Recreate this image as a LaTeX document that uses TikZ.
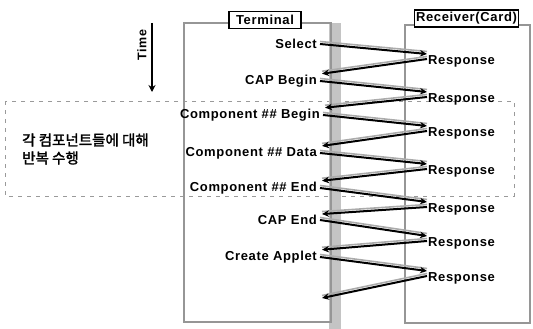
\documentclass[tikz,border=0pt]{standalone}
\usepackage{fontspec}
\setmainfont{Liberation Sans}[LetterSpace=5]
\newfontfamily\krfont{Noto Sans CJK KR}[FakeBold=2]
\usetikzlibrary{arrows.meta,positioning}
\definecolor{FrameGray}{HTML}{969696}
\definecolor{BandGray}{HTML}{C4C4C4}
\definecolor{ShadowGray}{HTML}{ABABAB}
\definecolor{DashGray}{HTML}{9A9A9A}

\tikzset{
  msg/.style={-{Stealth[length=7pt,width=6.5pt]}, line width=2pt, black,
    preaction={draw=ShadowGray, line width=1.6pt, -, transform canvas={yshift=2.5pt}}},
  frame/.style={draw=FrameGray, line width=2pt},
  titlebox/.style={draw, line width=1.8pt, fill=white, inner sep=1.5pt,
    minimum height=17pt, font=\fontsize{13}{15}\selectfont\bfseries},
  label/.style={anchor=east},
  reply/.style={anchor=west}
}

\begin{document}
\begin{tikzpicture}[x=1pt,y=-1pt,
  every node/.style={font=\fontsize{13}{15}\selectfont\bfseries, inner sep=1pt}]
  \useasboundingbox (0,0) rectangle (533,329);
  % loop region
  \draw[DashGray, line width=0.9pt, dash pattern=on 4pt off 5pt] (5,101) rectangle (514,196);
  \node[anchor=west, align=left, font=\krfont\fontsize{14.5}{18}\selectfont] (loop) at (21,149)
    {각 컴포넌트들에 대해\\반복 수행};
  % lifelines
  \fill[BandGray] (329,23) rectangle (341,329);
  \draw[frame] (184,23) rectangle (331,322);
  \draw[frame] (405,25) rectangle (530,323);
  \node[titlebox, minimum width=72pt] (term) at (265,20) {Terminal};
  \node[titlebox, minimum width=101pt] (recv) at (466.5,18.5) {Receiver(Card)};
  % time axis
  \coordinate (ttop) at (152,23);
  \coordinate (tbot) at (152,92);
  \draw[-{Stealth[length=7pt,width=7pt]}, line width=2.8pt] (ttop) -- (tbot);
  \node[rotate=90, font=\fontsize{12.5}{14}\selectfont\bfseries] (time) at (142,45) {Time};
  % commands
  \node[label] (sel)  at (318,44)  {Select};
  \node[label] (capb) at (318,81)  {CAP Begin};
  \node[label] (cpb)  at (321,115) {Component \#\# Begin};
  \node[label] (cpd)  at (318,153) {Component \#\# Data};
  \node[label] (cpe)  at (318,188) {Component \#\# End};
  \node[label] (cape) at (318,220) {CAP End};
  \node[label] (app)  at (318,257) {Create Applet};
  \coordinate (fin) at (322,298);
  % responses
  \foreach \i/\y in {1/61, 2/99, 3/133, 4/171, 5/209, 6/243, 7/278}
    \node[reply] (r\i) at (427,\y) {Response};
  % messages
  \foreach \a/\i/\b in {sel/1/capb, capb/2/cpb, cpb/3/cpd, cpd/4/cpe, cpe/5/cape, cape/6/app}{
    \draw[msg] ([xshift=2pt]\a.east) -- (r\i.north west);
    \draw[msg] ([yshift=2pt]r\i.west) -- ([xshift=4pt]\b.north east);
  }
  \draw[msg] ([xshift=2pt]app.east) -- (r7.north west);
  \draw[msg] ([yshift=2pt]r7.west) -- (fin);
\end{tikzpicture}
\end{document}
